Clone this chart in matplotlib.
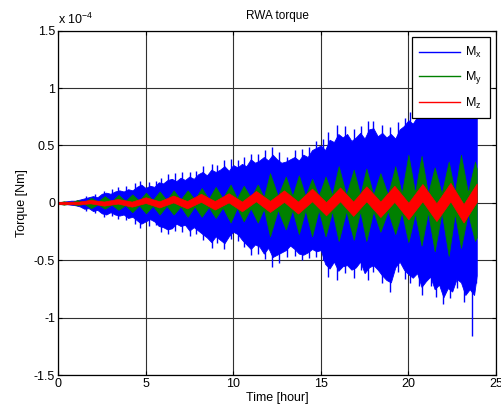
import numpy as np
import matplotlib
matplotlib.use("Agg")
import matplotlib.pyplot as plt
from matplotlib.lines import Line2D

plt.rcParams['font.family'] = ['Liberation Sans', 'DejaVu Sans']

# ---- data (values in units of 1e-4 Nm) ----
# Mx (blue) envelope
mx_t = [0.00, 0.25, 0.50, 0.75, 1.00, 1.25, 1.50, 1.75, 2.00, 2.25, 2.50, 2.75,
        3.00, 3.25, 3.50, 3.75, 4.00, 4.25, 4.50, 4.75, 5.00, 5.25, 5.50, 5.75,
        6.00, 6.25, 6.50, 6.75, 7.00, 7.25, 7.50, 7.75, 8.00, 8.25, 8.50, 8.75,
        9.00, 9.25, 9.50, 9.75, 10.00, 10.25, 10.50, 10.75, 11.00, 11.25, 11.50, 11.75,
        12.00, 12.25, 12.50, 12.75, 13.00, 13.25, 13.50, 13.75, 14.00, 14.25, 14.50, 14.75,
        15.00, 15.25, 15.50, 15.75, 16.00, 16.25, 16.50, 16.75, 17.00, 17.25, 17.50, 17.75,
        18.00, 18.25, 18.50, 18.75, 19.00, 19.25, 19.50, 19.75, 20.00, 20.25, 20.50, 20.75,
        21.00, 21.25, 21.50, 21.75, 22.00, 22.25, 22.50, 22.75, 23.00, 23.25, 23.50, 23.75, 23.90]
mx_hi = [0.01, 0.01, 0.015, 0.02, 0.02, 0.03, 0.04, 0.05, 0.06, 0.05, 0.08, 0.09,
         0.08, 0.10, 0.11, 0.10, 0.12, 0.11, 0.14, 0.16, 0.13, 0.15, 0.14, 0.18,
         0.17, 0.20, 0.21, 0.19, 0.22, 0.20, 0.23, 0.21, 0.25, 0.27, 0.24, 0.29,
         0.27, 0.29, 0.32, 0.28, 0.33, 0.31, 0.34, 0.32, 0.38, 0.35, 0.37, 0.40,
         0.37, 0.42, 0.38, 0.35, 0.36, 0.38, 0.40, 0.37, 0.42, 0.40, 0.46, 0.48,
         0.50, 0.46, 0.55, 0.53, 0.60, 0.57, 0.60, 0.54, 0.57, 0.61, 0.56, 0.64,
         0.65, 0.58, 0.61, 0.57, 0.60, 0.56, 0.64, 0.67, 0.72, 0.69, 0.75, 0.77,
         0.76, 0.80, 0.78, 0.82, 0.80, 0.84, 0.81, 0.78, 0.82, 0.80, 0.84, 0.82, 0.76]
mx_lo = [-0.01, -0.01, -0.01, -0.015, -0.02, -0.03, -0.05, -0.045, -0.07, -0.06, -0.09, -0.10,
         -0.08, -0.10, -0.11, -0.10, -0.13, -0.12, -0.15, -0.18, -0.16, -0.14, -0.16, -0.20,
         -0.21, -0.23, -0.22, -0.18, -0.20, -0.19, -0.24, -0.21, -0.24, -0.27, -0.30, -0.34,
         -0.29, -0.32, -0.35, -0.29, -0.25, -0.27, -0.32, -0.36, -0.40, -0.36, -0.38, -0.44,
         -0.39, -0.47, -0.45, -0.43, -0.41, -0.37, -0.40, -0.44, -0.45, -0.43, -0.40, -0.42,
         -0.41, -0.53, -0.57, -0.51, -0.59, -0.55, -0.54, -0.58, -0.56, -0.51, -0.61, -0.56,
         -0.54, -0.58, -0.63, -0.67, -0.69, -0.56, -0.51, -0.58, -0.62, -0.65, -0.61, -0.73,
         -0.68, -0.64, -0.75, -0.71, -0.82, -0.74, -0.77, -0.66, -0.69, -0.80, -0.75, -0.80, -0.63]
# narrow Mx spikes beyond the envelope (time, top, bottom)
mx_spike_t = [1.6, 2.1, 2.6, 3.1, 3.4, 3.9, 4.4, 4.7, 5.2, 5.6, 5.9, 6.3, 6.7, 7.1,
              7.55, 7.9, 8.3, 8.8, 9.1, 9.5, 9.9, 10.3, 10.6, 11.0, 11.4, 11.8, 12.2, 12.6,
              13.05, 13.5, 13.9, 14.3, 14.7, 15.1, 15.4, 15.95, 16.4, 16.9, 17.3, 17.7, 18.0,
              18.5, 18.95, 19.4, 19.8, 20.1, 20.6, 20.8, 21.3, 21.6, 22.0, 22.4, 22.8, 23.2,
              23.62, 23.85]
mx_spike_hi = [0.06, 0.08, 0.10, 0.12, 0.14, 0.15, 0.17, 0.19, 0.18, 0.19, 0.22, 0.25, 0.26, 0.27,
               0.27, 0.28, 0.32, 0.34, 0.33, 0.37, 0.38, 0.37, 0.40, 0.43, 0.43, 0.46, 0.49, 0.44,
               0.40, 0.46, 0.47, 0.49, 0.54, 0.56, 0.62, 0.68, 0.67, 0.64, 0.67, 0.71, 0.71,
               0.68, 0.66, 0.70, 0.74, 0.79, 0.82, 0.84, 0.87, 0.85, 0.86, 0.89, 0.85, 0.88,
               0.88, 0.85]
mx_spike_lo = [-0.07, -0.09, -0.12, -0.11, -0.14, -0.15, -0.18, -0.22, -0.20, -0.19, -0.25, -0.27, -0.24, -0.25,
               -0.29, -0.27, -0.32, -0.39, -0.35, -0.40, -0.31, -0.33, -0.38, -0.45, -0.44, -0.49, -0.56, -0.52,
               -0.47, -0.46, -0.50, -0.48, -0.47, -0.50, -0.64, -0.67, -0.61, -0.65, -0.58, -0.67, -0.60,
               -0.70, -0.77, -0.60, -0.66, -0.70, -0.72, -0.80, -0.72, -0.82, -0.88, -0.83, -0.74, -0.86,
               -1.16, -0.70]

# My (green) lobes: alternating nodes and lobe peaks
my_t = [0.00, 0.33, 0.72, 1.10, 1.50, 1.89, 2.28, 2.67, 3.06, 3.45, 3.85, 4.24,
        4.63, 5.02, 5.41, 5.80, 6.20, 6.60, 7.00, 7.40, 7.80, 8.20, 8.60, 9.00,
        9.40, 9.85, 10.22, 10.60, 11.00, 11.40, 11.75, 12.10, 12.55, 13.00, 13.38, 13.75,
        14.12, 14.50, 14.88, 15.27, 15.65, 16.02, 16.45, 16.88, 17.25, 17.60, 18.00, 18.40,
        18.83, 19.25, 19.62, 20.00, 20.38, 20.75, 21.12, 21.50, 21.90, 22.30, 22.65, 23.00,
        23.40, 23.80, 23.90]
my_hi = [0.005, 0.015, 0.005, 0.025, 0.008, 0.045, 0.012, 0.06, 0.015, 0.07, 0.018, 0.075,
         0.02, 0.09, 0.025, 0.10, 0.025, 0.11, 0.03, 0.11, 0.03, 0.13, 0.035, 0.14,
         0.04, 0.16, 0.04, 0.15, 0.045, 0.16, 0.05, 0.26, 0.06, 0.23, 0.06, 0.24,
         0.06, 0.21, 0.06, 0.23, 0.07, 0.32, 0.07, 0.29, 0.07, 0.30, 0.07, 0.26,
         0.07, 0.32, 0.08, 0.42, 0.09, 0.41, 0.08, 0.31, 0.08, 0.36, 0.09, 0.42,
         0.09, 0.36, 0.30]
my_lo = [-0.005, -0.015, -0.005, -0.02, -0.008, -0.045, -0.012, -0.05, -0.015, -0.06, -0.018, -0.08,
         -0.02, -0.09, -0.025, -0.10, -0.025, -0.10, -0.03, -0.12, -0.03, -0.12, -0.035, -0.13,
         -0.04, -0.17, -0.04, -0.16, -0.045, -0.17, -0.05, -0.29, -0.06, -0.23, -0.06, -0.27,
         -0.06, -0.29, -0.06, -0.29, -0.07, -0.33, -0.07, -0.32, -0.07, -0.33, -0.07, -0.25,
         -0.07, -0.27, -0.08, -0.34, -0.09, -0.37, -0.08, -0.42, -0.08, -0.46, -0.09, -0.39,
         -0.09, -0.33, -0.30]

# Mz (red) band: centre and half-width
mz_t = [0.0, 1.2, 1.84, 2.63, 3.42, 4.21, 5.0, 5.79, 6.58, 7.37, 8.16, 8.95, 9.74,
        10.5, 11.3, 12.1, 12.9, 13.7, 14.5, 15.3, 16.1, 16.85, 17.6, 18.4, 19.2,
        20.0, 20.8, 21.6, 22.4, 23.15, 23.9]
mz_mid = [0.0, 0.0, 0.012, -0.005, 0.015, -0.01, 0.025, -0.012, 0.035, -0.015, 0.045, -0.02, 0.045,
          -0.03, 0.06, -0.03, 0.06, -0.04, 0.07, -0.05, 0.075, -0.05, 0.08, -0.055, 0.08,
          -0.07, 0.09, -0.08, 0.095, -0.09, 0.09]
mz_hw = [0.010, 0.012, 0.015, 0.018, 0.020, 0.022, 0.025, 0.027, 0.030, 0.032, 0.035, 0.037, 0.040,
         0.042, 0.045, 0.048, 0.050, 0.052, 0.055, 0.057, 0.060, 0.062, 0.065, 0.067, 0.070,
         0.072, 0.075, 0.077, 0.080, 0.080, 0.080]

legend_labels = [r'$\mathregular{M_x}$', r'$\mathregular{M_y}$', r'$\mathregular{M_z}$']
series_colors = ['#0000ff', '#008000', '#ff0000']
x_ticks = [0, 5, 10, 15, 20, 25]
y_ticks = [-1.5, -1, -0.5, 0, 0.5, 1, 1.5]
y_tick_labels = ['-1.5', '-1', '-0.5', '0', '0.5', '1', '1.5']

# ---- figure ----
fig = plt.figure(figsize=(5.01, 4.15), dpi=100)
ax = fig.add_axes([0.1158, 0.0952, 0.8742, 0.8313])

mid = np.array(mz_mid)
hw = np.array(mz_hw)

ax.fill_between(mx_t, mx_lo, mx_hi, color=series_colors[0], lw=0.6, zorder=2)
ax.vlines(mx_spike_t, mx_spike_lo, mx_spike_hi, color=series_colors[0], lw=1.0, zorder=2)
ax.fill_between(my_t, my_lo, my_hi, color=series_colors[1], lw=0.5, zorder=3)
ax.fill_between(mz_t, mid - hw, mid + hw, color=series_colors[2], lw=0.5, zorder=4)

ax.set_xlim(0, 25)
ax.set_ylim(-1.5, 1.5)
ax.set_xticks(x_ticks)
ax.set_yticks(y_ticks)
ax.set_yticklabels(y_tick_labels)
ax.tick_params(direction='in', top=True, right=True, length=3, width=0.8,
               labelsize=9, pad=2)
ax.grid(True, color='#303030', lw=0.8, zorder=1)
ax.set_axisbelow(True)
for s in ax.spines.values():
    s.set_linewidth(0.9)
    s.set_zorder(6)

ax.set_title('RWA torque', fontsize=8.5, pad=8)
ax.set_xlabel('Time [hour]', fontsize=9, labelpad=1)
ax.set_ylabel('Torque [Nm]', fontsize=9, labelpad=4)
ax.text(0.0, 1.01, r'x 10$^{\mathregular{-4}}$', transform=ax.transAxes,
        fontsize=9, ha='left', va='bottom')

handles = [Line2D([0], [0], color=c, lw=1.0) for c in series_colors]
leg = ax.legend(handles, legend_labels, loc='upper right',
                bbox_to_anchor=(0.986, 0.980), borderaxespad=0,
                fancybox=False, framealpha=1, edgecolor='k', fontsize=9,
                handlelength=3.3, labelspacing=0.75, handletextpad=0.4,
                borderpad=0.6)
leg.get_frame().set_linewidth(0.9)
leg.set_zorder(10)

fig.savefig('out.png', dpi=100)
